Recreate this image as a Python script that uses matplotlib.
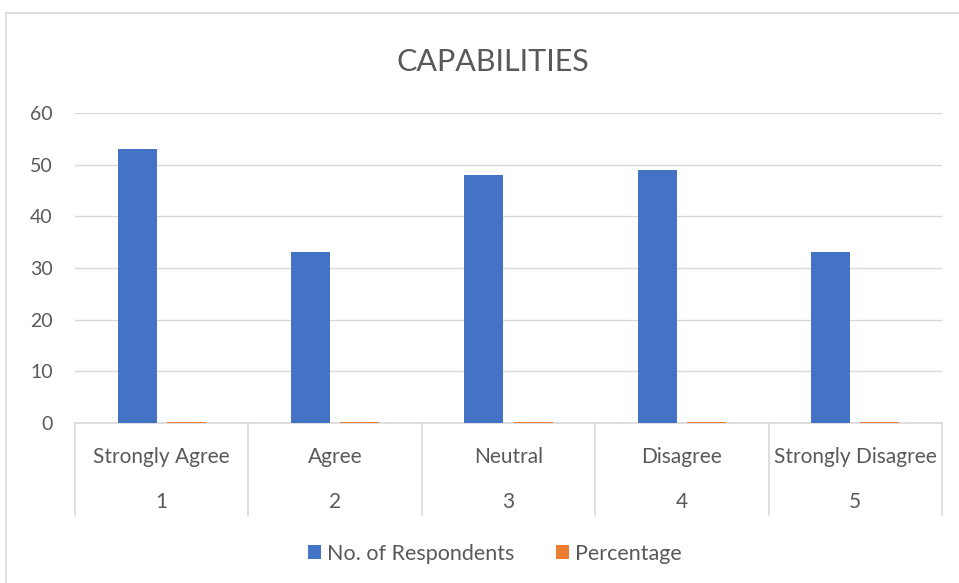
import numpy as np
import matplotlib.pyplot as plt
from matplotlib.patches import Rectangle
import matplotlib.transforms as mtransforms

categories = ['Strongly Agree', 'Agree', 'Neutral', 'Disagree', 'Strongly Disagree']
codes = ['1', '2', '3', '4', '5']
respondents = [53, 33, 48, 49, 33]
percentage = [0.245, 0.153, 0.222, 0.227, 0.153]

plt.rcParams['font.family'] = ['Lato', 'DejaVu Sans']
txt = '#595959'
grid = '#d9d9d9'

fig = plt.figure(figsize=(9.59, 5.83), dpi=100)
fig.patches.append(Rectangle((6 / 959, -0.02), 1.0, 570 / 583 + 0.02, transform=fig.transFigure,
                             fill=False, edgecolor='#d9d9d9', lw=1.2))
ax = fig.add_axes([75 / 959, 160 / 583, 867 / 959, 310 / 583])

x = np.arange(len(categories))
w = 0.225
gap = 0.058
ax.bar(x - (w + gap) / 2, respondents, w, color='#4472c4', label='No. of Respondents', zorder=3)
ax.bar(x + (w + gap) / 2, percentage, w, color='#ed7d31', label='Percentage', zorder=3)

ax.set_xlim(-0.5, len(categories) - 0.5)
ax.set_ylim(0, 60)
ax.set_yticks(range(0, 61, 10))
ax.yaxis.grid(True, color=grid, lw=1)
ax.set_axisbelow(True)
for s in ['top', 'right', 'left']:
    ax.spines[s].set_visible(False)
ax.spines['bottom'].set_color(grid)
ax.spines['bottom'].set_linewidth(1.2)
ax.tick_params(axis='y', length=0, labelsize=14, labelcolor=txt, pad=16)
ax.set_xticks([])

trans = mtransforms.blended_transform_factory(ax.transData, ax.transAxes)
for i, (c, k) in enumerate(zip(categories, codes)):
    ax.text(i, -0.11, c, transform=trans, ha='center', va='center', fontsize=15, color=txt)
    ax.text(i, -0.255, k, transform=trans, ha='center', va='center', fontsize=15, color=txt)
for b in np.arange(len(categories) + 1) - 0.5:
    ax.plot([b, b], [0, -0.297], transform=trans, color=grid, lw=1.2, clip_on=False)

fig.text(0.514, 0.894, 'CAPABILITIES', ha='center', va='center', fontsize=22, color=txt)

fig.legend(loc='center', bbox_to_anchor=(0.516, 0.05), ncol=2, frameon=False,
           fontsize=15.5, labelcolor=txt, handlelength=0.6, handleheight=0.6,
           handletextpad=0.3, columnspacing=1.9)

fig.savefig('out.png', dpi=100)
